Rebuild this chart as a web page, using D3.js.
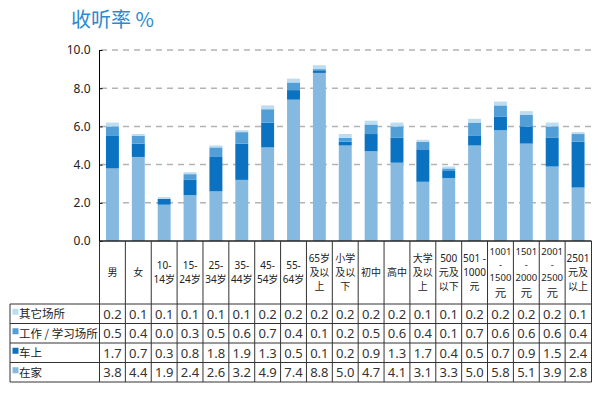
<!DOCTYPE html>
<html>
<head>
<meta charset="utf-8">
<script src="https://cdn.jsdelivr.net/npm/d3@7"></script>
<style>
  body { margin: 0; background: #fff; }
  svg text { font-family: "Noto Sans", "Noto Sans CJK SC", sans-serif; }
</style>
</head>
<body>
<svg width="600" height="397"></svg>
<script>
// categories and their header label lines
const categories = ['男', '女', '10-14岁', '15-24岁', '25-34岁', '35-44岁', '45-54岁', '55-64岁', '65岁及以上',
  '小学及以下', '初中', '高中', '大学及以上', '500元及以下', '501-1000元', '1001-1500元', '1501-2000元',
  '2001-2500元', '2501元及以上'];
const headerLines = [['男'], ['女'], ['10-', '14岁'], ['15-', '24岁'], ['25-', '34岁'], ['35-', '44岁'],
  ['45-', '54岁'], ['55-', '64岁'], ['65岁', '及以', '上'], ['小学', '及以', '下'], ['初中'], ['高中'],
  ['大学', '及以', '上'], ['500', '元及', '以下'], ['501 -', '1000', '元'], ['1001', '-', '1500', '元'],
  ['1501', '-', '2000', '元'], ['2001', '-', '2500', '元'], ['2501', '元及', '以上']];

// series values (stack order bottom -> top)
const home  = [3.8, 4.4, 1.9, 2.4, 2.6, 3.2, 4.9, 7.4, 8.8, 5.0, 4.7, 4.1, 3.1, 3.3, 5.0, 5.8, 5.1, 3.9, 2.8];
const car   = [1.7, 0.7, 0.3, 0.8, 1.8, 1.9, 1.3, 0.5, 0.1, 0.2, 0.9, 1.3, 1.7, 0.4, 0.5, 0.7, 0.9, 1.5, 2.4];
const work  = [0.5, 0.4, 0.0, 0.3, 0.5, 0.6, 0.7, 0.4, 0.1, 0.2, 0.5, 0.6, 0.4, 0.1, 0.7, 0.6, 0.6, 0.6, 0.4];
const other = [0.2, 0.1, 0.1, 0.1, 0.1, 0.1, 0.2, 0.2, 0.2, 0.2, 0.2, 0.2, 0.1, 0.1, 0.2, 0.2, 0.2, 0.2, 0.1];

const seriesNames = ['在家', '车上', '工作 / 学习场所', '其它场所'];
const seriesColors = ['#86b9e0', '#0a72c0', '#529fd7', '#bcdcf2'];
const yTicks = [0, 2, 4, 6, 8, 10];

const svg = d3.select('svg');

const x = d3.scaleBand().domain(categories).range([99.5, 591]).paddingInner(0.5).paddingOuter(0.25);
const cols = d3.scaleBand().domain(categories).range([99.5, 591]);
const y = d3.scaleLinear().domain([0, 10]).range([241, 50]);

// title
svg.append('text')
  .attr('x', 71).attr('y', 27)
  .attr('font-size', 20)
  .attr('fill', '#2b8ad1')
  .style('font-family', '"Noto Sans CJK SC", sans-serif')
  .text('收听率 %');

// grid lines
svg.append('g').selectAll('line')
  .data(yTicks.filter(d => d > 0))
  .enter().append('line')
  .attr('x1', 101).attr('x2', 596)
  .attr('y1', d => y(d)).attr('y2', d => y(d))
  .attr('stroke', '#b3b3b3')
  .attr('stroke-width', 1.5)
  .attr('stroke-dasharray', '6,5');

// y axis
const yAxis = svg.append('g')
  .attr('transform', 'translate(99.5,0)')
  .call(d3.axisLeft(y).tickValues(yTicks).tickSize(3).tickFormat(d3.format('.1f')));
yAxis.select('.domain').attr('stroke', '#000').attr('d', 'M0,' + y(10) + 'V' + y(0));
yAxis.selectAll('.tick line').attr('stroke', '#000').attr('x2', 3).attr('x1', 0);
yAxis.selectAll('.tick text')
  .attr('x', -9)
  .attr('font-size', 12)
  .attr('fill', '#222')
  .style('font-family', '"Noto Sans", sans-serif');

// stacked bars
const rows = categories.map((c, i) => ({cat: c, s0: home[i], s1: car[i], s2: work[i], s3: other[i]}));
const stack = d3.stack().keys(['s0', 's1', 's2', 's3'])(rows);

svg.append('g').selectAll('g')
  .data(stack)
  .enter().append('g')
  .attr('fill', (d, i) => seriesColors[i])
  .selectAll('rect')
  .data(d => d)
  .enter().append('rect')
  .attr('x', d => x(d.data.cat))
  .attr('width', x.bandwidth())
  .attr('y', d => y(d[1]))
  .attr('height', d => y(d[0]) - y(d[1]));

// x axis line
svg.append('line')
  .attr('x1', 99.5).attr('x2', 591.5)
  .attr('y1', 241).attr('y2', 241)
  .attr('stroke', '#222').attr('stroke-width', 1.5);

// table
const rowTop = 304, rowH = 19.5;
const tableRows = [other, work, car, home];
const tableNames = ['其它场所', '工作 / 学习场所', '车上', '在家'];
const tableColors = [seriesColors[3], seriesColors[2], seriesColors[1], seriesColors[0]];

const grid = svg.append('g').attr('stroke', '#333').attr('stroke-width', 1);
d3.range(5).forEach(r => {
  grid.append('line')
    .attr('x1', 10).attr('x2', 591.5)
    .attr('y1', rowTop + r * rowH).attr('y2', rowTop + r * rowH);
});
grid.append('line')
  .attr('x1', 10).attr('x2', 10)
  .attr('y1', rowTop).attr('y2', rowTop + 4 * rowH);
categories.forEach(c => {
  grid.append('line')
    .attr('x1', cols(c)).attr('x2', cols(c))
    .attr('y1', 241).attr('y2', rowTop + 4 * rowH);
});
grid.append('line')
  .attr('x1', 591.5).attr('x2', 591.5)
  .attr('y1', 241).attr('y2', rowTop + 4 * rowH);

// header labels
const headerMid = (241 + rowTop) / 2;
categories.forEach((c, i) => {
  const lines = headerLines[i];
  const four = lines.length > 3;
  const step = four ? 13 : 14;
  const start = headerMid - (lines.length - 1) * step / 2 - (four ? 2 : 0);
  const t = svg.append('text')
    .attr('x', cols(c) + cols.bandwidth() / 2)
    .attr('text-anchor', 'middle')
    .attr('font-size', 10)
    .attr('fill', '#222');
  lines.forEach((l, j) => {
    const big = four && l === '元';
    t.append('tspan')
      .attr('x', cols(c) + cols.bandwidth() / 2)
      .attr('y', start + j * step + 3.5 + (big ? 3.5 : 0))
      .attr('font-size', big ? 11.5 : (four ? 9.5 : 10))
      .text(l);
  });
});

// row labels and values
tableRows.forEach((vals, r) => {
  const cy = rowTop + r * rowH + rowH / 2;
  svg.append('rect')
    .attr('x', 12.5).attr('y', cy - 5)
    .attr('width', 6).attr('height', 6)
    .attr('fill', tableColors[r]);
  svg.append('text')
    .attr('x', 19).attr('y', cy + 4.5)
    .attr('font-size', 11.5)
    .attr('fill', '#222')
    .style('font-family', '"Noto Sans CJK SC", sans-serif')
    .text(tableNames[r]);
  svg.append('g').selectAll('text')
    .data(vals)
    .enter().append('text')
    .attr('x', (d, i) => cols(categories[i]) + cols.bandwidth() / 2)
    .attr('y', cy + 5)
    .attr('text-anchor', 'middle')
    .attr('font-size', 13)
    .attr('fill', '#333')
    .text(d => d.toFixed(1));
});
</script>
</body>
</html>
